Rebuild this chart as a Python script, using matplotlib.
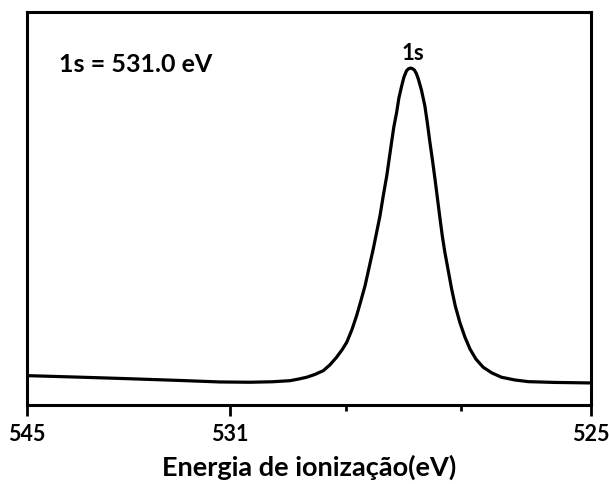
import matplotlib
matplotlib.use("Agg")
import matplotlib.pyplot as plt

plt.rcParams['font.family'] = ['Lato', 'DejaVu Sans']
plt.rcParams['font.weight'] = 'bold'

# O 1s spectrum (energy in eV, intensity in arbitrary units)
energia = [545.00, 543.12, 541.35, 539.57, 538.16, 537.09, 536.30, 535.67,
           535.39, 535.08, 534.79, 534.49, 534.26, 534.02, 533.83, 533.66,
           533.48, 533.31, 533.16, 533.01, 532.87, 532.72, 532.59, 532.48,
           532.36, 532.24, 532.16, 532.07, 531.99, 531.89, 531.81, 531.71,
           531.63, 531.54, 531.47, 531.40, 531.33, 531.26, 531.19, 531.12,
           531.01, 530.89, 530.80, 530.71, 530.62, 530.53, 530.44, 530.35,
           530.27, 530.18, 530.07, 529.94, 529.81, 529.65, 529.47, 529.29,
           529.08, 528.82, 528.51, 528.17, 527.70, 527.22, 526.28, 525.00]
intensidade = [7.46, 7.07, 6.67, 6.23, 5.85, 5.78, 5.90, 6.18,
               6.56, 7.05, 7.76, 8.73, 10.18, 12.14, 13.99, 15.95,
               19.08, 22.72, 26.46, 30.36, 34.86, 39.69, 44.27, 48.17,
               53.44, 58.35, 62.34, 66.85, 70.74, 74.48, 78.12, 81.25,
               83.46, 85.06, 85.57, 85.75, 85.62, 85.24, 84.35, 82.95,
               80.15, 76.16, 71.76, 66.85, 62.34, 57.51, 52.42, 47.33,
               43.00, 38.86, 34.61, 29.52, 25.19, 21.04, 17.30, 14.25,
               11.70, 9.59, 8.14, 7.05, 6.36, 5.93, 5.73, 5.60]

major_ticks = [545, 537.8, 525]
major_labels = ['545', '531', '525']
minor_ticks = [533.69, 529.61]

fig = plt.figure(figsize=(6.09, 4.85), dpi=100)
ax = fig.add_axes([0.0443, 0.163, 0.926, 0.810])

ax.plot(energia, intensidade, color='black', lw=2.3,
        solid_joinstyle='round', solid_capstyle='round')

ax.set_xlim(545, 525)
ax.set_ylim(0, 100)
ax.set_yticks([])
ax.set_xticks(major_ticks)
ax.set_xticklabels(major_labels)
ax.set_xticks(minor_ticks, minor=True)
ax.tick_params(axis='x', which='major', direction='out', length=8, width=2,
               labelsize=15.5, pad=5)
ax.tick_params(axis='x', which='minor', direction='out', length=4, width=2)
for s in ax.spines.values():
    s.set_linewidth(2.2)

ax.set_xlabel('Energia de ionização(eV)', fontsize=19.5, fontweight='bold', labelpad=7)

ax.text(0.057, 0.851, '1s = 531.0 eV', transform=ax.transAxes, fontsize=18,
        fontweight='bold', ha='left', va='baseline')
ax.text(531.31, 88.0, '1s', fontsize=16, fontweight='bold', ha='center', va='baseline')

plt.savefig('out.png', dpi=100)
plt.close()
